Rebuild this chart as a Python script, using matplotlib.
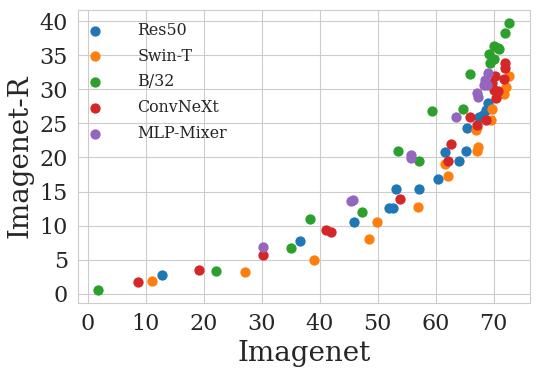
import numpy as np
import matplotlib
matplotlib.use("Agg")
import matplotlib.pyplot as plt
import seaborn as sns

# imagenet vs imagenet-R accuracy per model family
res50_x = [12.8, 36.7, 45.9, 52.0, 52.6, 53.2, 57.2, 60.5, 61.7, 64.0, 65.2, 65.5,
           67.5, 68.1, 68.7, 69.0]
res50_y = [2.84, 7.77, 10.5, 12.6, 12.6, 15.4, 15.35, 16.9, 20.8, 19.5, 20.9, 24.3,
           25.9, 26.2, 27.0, 28.0]

swin_x = [11.15, 27.1, 39.1, 48.6, 49.9, 56.9, 61.6, 62.1, 67.0, 67.1, 67.4, 67.2,
          69.6, 69.8, 71.8, 72.1, 72.6]
swin_y = [1.95, 3.18, 4.94, 8.06, 10.56, 12.7, 19.1, 17.3, 24.0, 20.9, 21.6, 24.4,
          25.5, 27.1, 29.3, 30.4, 31.9]

b32_x = [1.85, 22.2, 35.0, 38.4, 47.4, 53.6, 57.2, 59.4, 64.8, 65.9, 69.4, 70.0,
         69.3, 70.1, 70.7, 71.0, 72.0, 72.7]
b32_y = [0.63, 3.37, 6.8, 10.95, 12.0, 20.9, 19.5, 26.8, 27.1, 32.2, 33.8, 34.5,
         35.1, 36.4, 36.0, 35.9, 38.2, 39.7]

convnext_x = [8.75, 19.2, 30.2, 41.1, 42.0, 53.8, 62.1, 62.7, 65.9, 67.1, 68.7,
              69.8, 70.1, 70.4, 70.7, 70.3, 71.8, 71.9, 72.0]
convnext_y = [1.76, 3.52, 5.67, 9.38, 9.09, 13.97, 19.5, 22.0, 26.0, 24.7, 25.5,
              30.9, 29.9, 28.7, 29.7, 31.9, 31.5, 33.1, 33.8]

mixer_x = [30.3, 45.5, 45.7, 55.8, 55.8, 63.5, 67.2, 67.4, 68.4, 68.8, 68.6, 69.0]
mixer_y = [6.85, 13.6, 13.7, 20.4, 19.9, 25.9, 29.4, 28.8, 30.6, 30.6, 31.4, 32.4]

series = [
    ("Res50", res50_x, res50_y),
    ("Swin-T", swin_x, swin_y),
    ("B/32", b32_x, b32_y),
    ("ConvNeXt", convnext_x, convnext_y),
    ("MLP-Mixer", mixer_x, mixer_y),
]

sns.set_style("whitegrid")
plt.rcParams['font.family'] = ['DejaVu Serif']

fig = plt.figure(figsize=(5.4, 3.74), dpi=100)
ax = fig.add_axes([0.144, 0.19, 0.837, 0.784])

for name, xs, ys in series:
    ax.scatter(xs, ys, s=55, label=name, linewidths=0)

ax.set_xlabel("Imagenet", fontsize=20)
ax.set_ylabel("Imagenet-R", fontsize=20)
ax.tick_params(labelsize=16)
ax.set_xticks(np.arange(0, 80, 10))
ax.set_yticks(np.arange(0, 45, 5))
ax.legend(loc="upper left", bbox_to_anchor=(0.0, 0.98), fontsize=11.4,
          frameon=False, handlelength=1.4, handletextpad=1.95,
          labelspacing=0.55, borderaxespad=0)

fig.savefig("out.png", dpi=100)
